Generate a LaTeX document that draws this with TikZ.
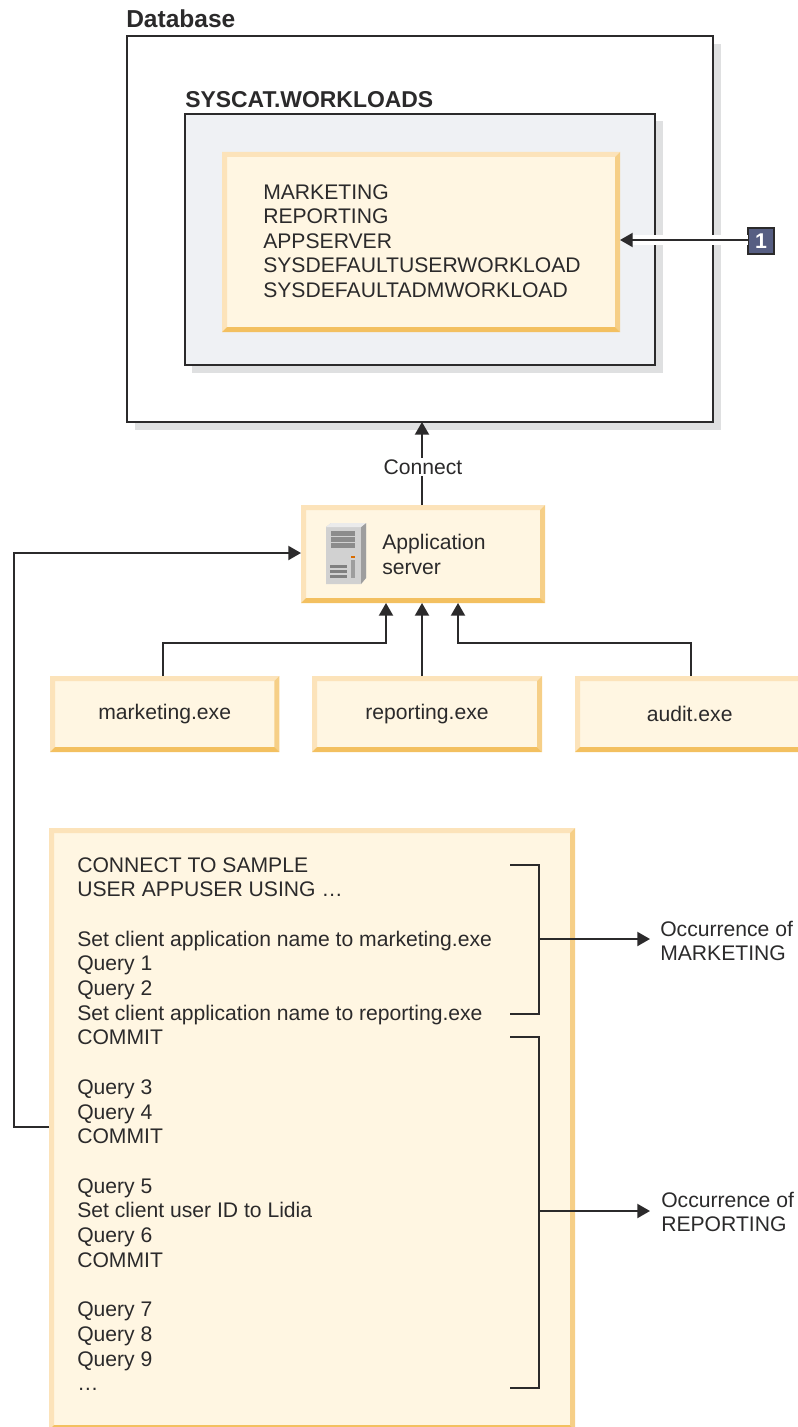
\documentclass[tikz,border=0pt]{standalone}
\usepackage{fontspec}
\setmainfont{Liberation Sans}
\usetikzlibrary{arrows, positioning, arrows.meta}
\definecolor{creamfill}{HTML}{FFF6E2}
\definecolor{bevellight}{HTML}{FCE3BA}
\definecolor{bevelright}{HTML}{F6CF87}
\definecolor{bevelbottom}{HTML}{F3C060}
\definecolor{panelfill}{HTML}{EFF1F4}
\definecolor{shadowgrey}{HTML}{DFE0E1}
\definecolor{badgefill}{HTML}{565E82}
\definecolor{inkgrey}{HTML}{2B2A2B}
\tikzset{
  bevel box/.style={
    inner sep=0pt, outer sep=0pt, fill=creamfill, text=inkgrey,
    path picture={
      \coordinate (sw) at (path picture bounding box.south west);
      \coordinate (ne) at (path picture bounding box.north east);
      \fill[bevellight] (sw) -- (sw |- ne) -- (ne) -- ([xshift=-3.75pt,yshift=-3.75pt]ne) -- ([xshift=3.75pt,yshift=-3.75pt]sw |- ne) -- ([xshift=3.75pt,yshift=3.75pt]sw) -- cycle;
      \fill[bevelright] (ne) -- (ne |- sw) -- ([xshift=-3.75pt,yshift=3.75pt]ne |- sw) -- ([xshift=-3.75pt,yshift=-3.75pt]ne) -- cycle;
      \fill[bevelbottom] (sw) -- (ne |- sw) -- ([xshift=-3.75pt,yshift=3.75pt]ne |- sw) -- ([xshift=3.75pt,yshift=3.75pt]sw) -- cycle;
    }},
  frame box/.style={draw=inkgrey, line width=1.5pt, inner sep=0pt, outer sep=0pt},
  body text/.style={font=\fontsize{15.85}{18.35}\selectfont, align=left, text=inkgrey, inner sep=0pt},
  title text/.style={font=\fontsize{17.2}{18}\selectfont\bfseries, text=inkgrey, inner sep=0pt, anchor=base west},
  link/.style={draw=inkgrey, line width=1.5pt},
  arrow link/.style={link, -{Triangle[length=9.5pt,width=10.5pt]}},
}

\begin{document}
\begin{tikzpicture}[x=0.75pt, y=-0.75pt]
	\useasboundingbox (0,0) rectangle (797,1427);

	% database frame and catalog panel
	\fill[shadowgrey] (135,44) rectangle (721,430);
	\node[frame box, fill=white, anchor=north west, minimum width=439.5pt, minimum height=289.5pt] (database) at (127,36) {};
	\node[title text, font=\fontsize{18.4}{18}\selectfont\bfseries] (databasetitle) at (126,28) {Database};
	\fill[shadowgrey] (192,121) rectangle (663,373);
	\node[frame box, fill=panelfill, anchor=north west, minimum width=352.5pt, minimum height=188.5pt] (syscat) at (185,114) {};
	\node[title text] (syscattitle) at (185,108) {SYSCAT.WORKLOADS};
	\node[bevel box, anchor=north west, minimum width=298.5pt, minimum height=135pt] (workloads) at (222,152) {};
	\node[body text, anchor=west] (workloadlist) at (263,241) {MARKETING\\REPORTING\\APPSERVER\\SYSDEFAULTUSERWORKLOAD\\SYSDEFAULTADMWORKLOAD};

	% callout
	\node[draw=inkgrey, line width=1.5pt, fill=badgefill, text=white, font=\fontsize{16}{16}\selectfont\bfseries, minimum size=20pt, inner sep=0pt, outer sep=0pt] (badge) at (761,241) {1};
	\draw[white, line width=7.5pt] (badge.west |- 0,240) -- (633,240);
	\draw[arrow link] (badge.west |- 0,240) -- (workloads.east |- 0,240);

	% server
	\node[bevel box, anchor=north west, minimum width=183pt, minimum height=73.5pt] (server) at (301,505) {};
	\node[body text, anchor=west] (servertext) at (382,554.5) {Application\\server};
	\draw[arrow link] (server.north -| 422,0) -- (database.south -| 422,0);
	\node[fill=white, font=\fontsize{15.85}{17}\selectfont, text=inkgrey, inner sep=1.5pt] (connect) at (423,467) {Connect};

	% server icon
	\fill[black!18] (326,527) -- (331,523) -- (366,523) -- (366,578) -- (361,584) -- (326,584) -- cycle;
	\fill[black!38] (361,527) -- (366,523) -- (366,578) -- (361,584) -- cycle;
	\fill[black!8] (326,527) -- (331,523) -- (366,523) -- (361,527) -- cycle;
	\foreach \y in {531,537,543} \fill[black!45] (331,\y) rectangle (355,\y+5);
	\foreach \y in {565,570,575} \fill[black!50] (330,\y) rectangle (347,\y+2.5);
	\fill[black!38] (351,560) rectangle (355,578);
	\fill[orange!85!black] (351,556) rectangle (355,558);

	% programs
	\node[bevel box, anchor=north west, minimum width=172pt, minimum height=57pt, body text] (marketing) at (50,676) {marketing.exe};
	\node[bevel box, anchor=north west, minimum width=172.5pt, minimum height=57pt, body text] (reporting) at (312,676) {reporting.exe};
	\node[bevel box, anchor=north west, minimum width=172pt, minimum height=57pt, body text] (audit) at (575,676) {audit.exe};

	\draw[arrow link] (marketing.north -| 163,0) -- (163,643) -- (386,643) -- (386,603);
	\draw[arrow link] (reporting.north -| 422,0) -- (server.south -| 422,0);
	\draw[arrow link] (audit.north -| 691,0) -- (691,643) -- (458,643) -- (458,603);

	% batch of statements
	\node[bevel box, anchor=north west, minimum width=394.5pt, minimum height=451.5pt] (batch) at (49,828) {};
	\node[body text, font=\fontsize{15.85}{18.53}\selectfont, anchor=north west] (batchtext) at (77,857) {CONNECT TO SAMPLE\\USER APPUSER USING …\\[18.53pt]Set client application name to marketing.exe\\Query 1\\Query 2\\Set client application name to reporting.exe\\COMMIT\\[18.53pt]Query 3\\Query 4\\COMMIT\\[18.53pt]Query 5\\Set client user ID to Lidia\\Query 6\\COMMIT\\[18.53pt]Query 7\\Query 8\\Query 9\\…};
	\draw[arrow link] (batch.west |- 0,1127) -- (14,1127) -- (14,553) -- (server.west |- 0,553);

	% occurrences
	\coordinate (marktop) at (510,865);
	\coordinate (markbot) at (510,1014);
	\coordinate (markmid) at (539,939);
	\coordinate (reptop) at (510,1037);
	\coordinate (repbot) at (510,1388);
	\coordinate (repmid) at (539,1211);
	\node[body text, anchor=west] (markocc) at (660,941) {Occurrence of\\MARKETING};
	\node[body text, anchor=west] (repocc) at (661,1212) {Occurrence of\\REPORTING};
	\coordinate (markend) at (650,939);
	\coordinate (repend) at (650,1211);
	\draw[link] (marktop) -- (539,865) -- (539,1014) -- (markbot);
	\draw[link] (reptop) -- (539,1037) -- (539,1388) -- (repbot);
	\draw[arrow link] (markmid) -- (markend);
	\draw[arrow link] (repmid) -- (repend);
\end{tikzpicture}
\end{document}
